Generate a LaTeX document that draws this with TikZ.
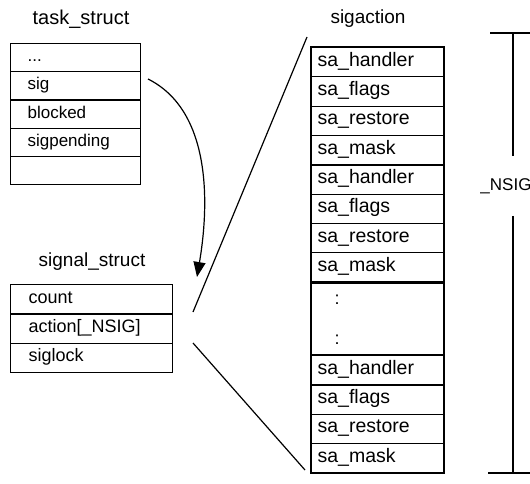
\documentclass[tikz,border=0pt]{standalone}
\usepackage{fontspec}
\setmainfont{Liberation Sans}
\usetikzlibrary{arrows.meta}

\tikzset{
  title/.style={font=\fontsize{19}{22}\selectfont},
  row/.style={draw, line width=1.2pt, anchor=north west, inner ysep=0pt,
    text height=12pt, text depth=4pt, align=left, font=\fontsize{17}{20}\selectfont},
  trow/.style={row, text width=96pt, inner xsep=17pt, minimum height=28.2pt},
  srow/.style={row, text width=126pt, inner xsep=18pt, minimum height=29.3pt, font=\fontsize{18}{21}\selectfont},
  arow/.style={row, text width=120pt, inner xsep=6pt, minimum height=29.3pt, font=\fontsize{19.5}{22}\selectfont},
  heavy/.style={line width=2pt}
}

\begin{document}
\begin{tikzpicture}[x=1pt, y=-1pt]
\useasboundingbox (0,0) rectangle (530,484);

% task_struct
\node[title, font=\fontsize{20}{23}\selectfont] (tasktitle) at (81,19) {task\_struct};
\node[trow] (etc) at (10,43) {...};
\node[trow] (sig) at (10,71.2) {sig};
\node[trow] (blocked) at (10,99.4) {blocked};
\node[trow] (sigpending) at (10,127.6) {sigpending};
\node[trow] (spare) at (10,155.8) {};

% signal_struct
\node[title] (signaltitle) at (92,262) {signal\_struct};
\node[srow] (count) at (10,284) {count};
\node[srow] (action) at (10,313.3) {action[\_NSIG]};
\node[srow] (siglock) at (10,342.6) {siglock};

% sigaction array
\node[title] (sigtitle) at (368,19) {sigaction};
\foreach \g/\y in {1/47, 2/164.2, 3/355} {
  \node[arow] (hand\g) at (311,\y) {sa\_handler};
  \node[arow] (flags\g) at (311,\y+29.3) {sa\_flags};
  \node[arow] (restore\g) at (311,\y+58.6) {sa\_restore};
  \node[arow] (mask\g) at (311,\y+87.9) {sa\_mask};
}
\node[row, anchor=north west, minimum width=132pt, minimum height=73.6pt] (gap) at (311,281.4) {};
\node[font=\fontsize{18}{20}\selectfont] (colon1) at (337,300) {:};
\node[font=\fontsize{18}{20}\selectfont] (colon2) at (337,340) {:};
\draw[heavy] (hand1.north west) rectangle (mask3.south east);
\draw[heavy] (mask1.south west) -- (mask1.south east);
\draw[heavy] (mask2.south west) -- (mask2.south east);
\draw[heavy] (hand3.north west) -- (hand3.north east);

% sig -> signal_struct
\coordinate (curlStart) at (148,79);
\coordinate (curlEnd) at (197,277);
\draw[line width=1.2pt, -{Triangle[length=15pt,width=12pt]}] (curlStart) .. controls (210,110) and (210,200) .. (curlEnd);

% action[] fans out to the array
\coordinate (fanA) at (193,312);
\coordinate (fanB) at (193,343);
\coordinate (fanTop) at (307,37);
\coordinate (fanBot) at (305,470);
\draw[line width=1.2pt] (fanA) -- (fanTop);
\draw[line width=1.2pt] (fanB) -- (fanBot);

% _NSIG span
\node[font=\fontsize{17}{20}\selectfont, inner ysep=22pt] (nsig) at (506,186) {\_NSIG};
\coordinate (spanTop) at (513,33);
\coordinate (spanBot) at (513,473);
\draw[line width=1.2pt] (490,33) -- (530,33);
\draw[line width=1.2pt] (spanTop) -- (spanTop |- nsig.north);
\draw[line width=1.2pt] (spanBot |- nsig.south) -- (spanBot);
\draw[line width=1.2pt] (488,473) -- (530,473);
\end{tikzpicture}
\end{document}
